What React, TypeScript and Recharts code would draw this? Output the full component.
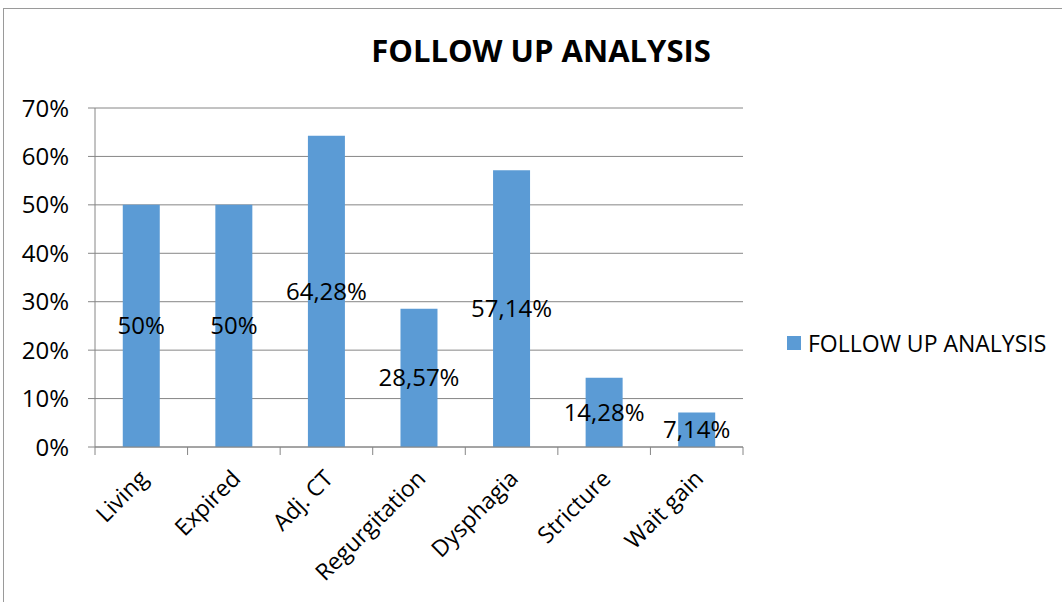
import React from 'react';
import { BarChart, Bar, XAxis, YAxis, CartesianGrid, LabelList } from 'recharts';

const categories = ['Living', 'Expired', 'Adj. CT', 'Regurgitation', 'Dysphagia', 'Stricture', 'Wait gain'];
const values = [50, 50, 64.28, 28.57, 57.14, 14.28, 7.14];
const yTicks = [0, 10, 20, 30, 40, 50, 60, 70];
const seriesName = 'FOLLOW UP ANALYSIS';
const chartTitle = 'FOLLOW UP ANALYSIS';

const data = categories.map((name, i) => ({ name, value: values[i] }));

const FONT = '"Open Sans", "Noto Sans", sans-serif';
const GRID = '#868686';
const BAR = '#5B9BD5';
const FS = 23;
const FS_NUM = 24;

const fmtPct = (v: any) => `${String(v).replace('.', ',')}%`;

const XTick = (props: any) => {
  const { x, y, payload, index, visibleTicksCount, width } = props;
  const half = payload && typeof payload.offset === 'number' && payload.offset > 0
    ? payload.offset
    : width / visibleTicksCount / 2;
  const last = index === visibleTicksCount - 1;
  return (
    <g>
      <line x1={x - half} x2={x - half} y1={y - 8} y2={y} stroke={GRID} strokeWidth={1} />
      {last && <line x1={x + half} x2={x + half} y1={y - 8} y2={y} stroke={GRID} strokeWidth={1} />}
      <g transform={`translate(${x + 8},${y + 25})`}>
        <text
          x={0}
          y={0}
          transform="rotate(-45)"
          textAnchor="end"
          fontFamily={FONT}
          fontSize={FS}
          fill="#000"
        >
          {payload.value}
        </text>
      </g>
    </g>
  );
};

export default function App() {
  return (
    <div style={{ position: 'fixed', left: 0, top: 0, width: 1062, height: 602, overflow: 'hidden', background: '#fff' }}>
      <div
        style={{
          position: 'absolute',
          left: 3,
          top: 8,
          width: 1080,
          height: 620,
          border: '1px solid #9a9a9a',
          boxSizing: 'border-box',
        }}
      />
      <div
        style={{
          position: 'absolute',
          left: 541,
          top: 29,
          transform: 'translateX(-50%)',
          whiteSpace: 'nowrap',
          fontFamily: FONT,
          fontWeight: 700,
          fontSize: 31,
          lineHeight: 'normal',
          color: '#000',
        }}
      >
        {chartTitle}
      </div>
      <div style={{ position: 'absolute', left: 0, top: 0 }}>
        <BarChart
          width={1062}
          height={602}
          data={data}
          margin={{ top: 108, right: 319, bottom: 0, left: 0 }}
          barCategoryGap="30%"
        >
          <CartesianGrid horizontal vertical={false} stroke={GRID} strokeDasharray="" />
          <YAxis
            width={95}
            domain={[0, 70]}
            ticks={yTicks}
            interval={0}
            tickFormatter={(v: number) => `${v}%`}
            axisLine={{ stroke: GRID }}
            tickLine={{ stroke: GRID }}
            tickSize={7}
            tickMargin={19}
            tick={{ fontFamily: FONT, fontSize: FS_NUM, fill: '#000' }}
          />
          <XAxis
            dataKey="name"
            height={155}
            interval={0}
            axisLine={{ stroke: GRID }}
            tickLine={false}
            tickSize={8}
            tickMargin={0}
            tick={<XTick />}
          />
          <Bar dataKey="value" name={seriesName} fill={BAR} isAnimationActive={false}>
            <LabelList
              dataKey="value"
              position="center"
              formatter={fmtPct}
              style={{ fontFamily: FONT, fontSize: FS_NUM, fill: '#000' }}
            />
          </Bar>
        </BarChart>
      </div>
      <div
        style={{
          position: 'absolute',
          left: 787,
          top: 327,
          display: 'flex',
          alignItems: 'center',
          whiteSpace: 'nowrap',
          fontFamily: FONT,
          fontSize: 23,
          lineHeight: 'normal',
          color: '#000',
        }}
      >
        <span style={{ display: 'inline-block', width: 14, height: 14, background: BAR, marginRight: 7 }} />
        <span>{seriesName}</span>
      </div>
    </div>
  );
}
